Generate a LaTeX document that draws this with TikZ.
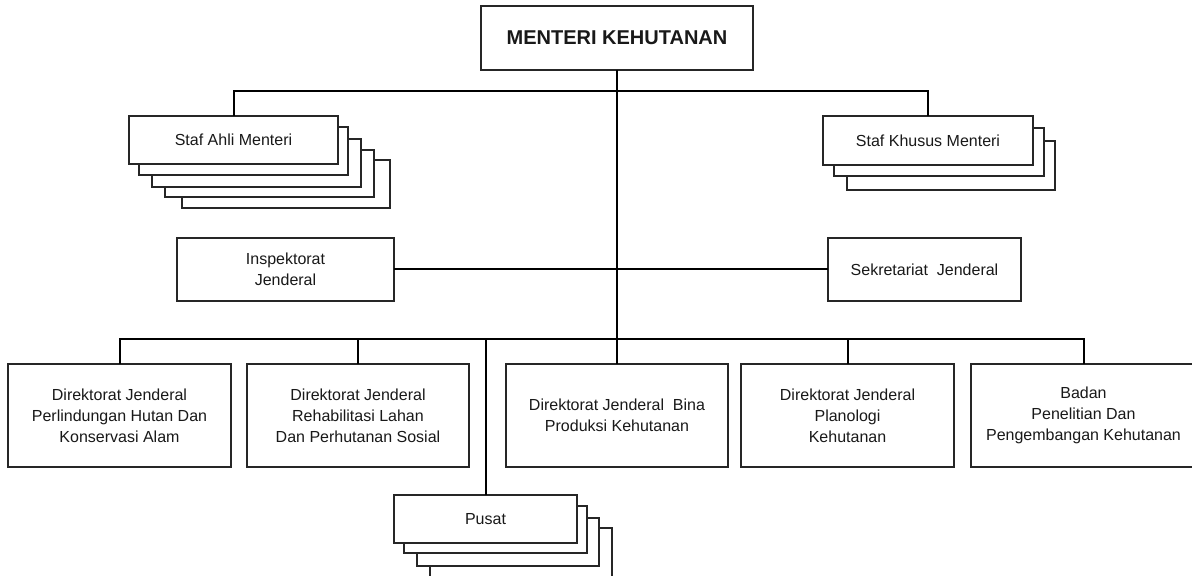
\documentclass[tikz,border=0pt]{standalone}
\usepackage{fontspec}
\setmainfont{Liberation Sans}
\begin{document}
\begin{tikzpicture}[x=0.5pt,y=-0.5pt,
  box/.style={draw=black!85,line width=0.65pt,fill=white,inner sep=0pt,outer sep=0pt,
    align=center,font=\fontsize{8}{10.5}\selectfont,text=black!90},
  stackbox/.style={draw=black!85,line width=0.65pt,fill=white},
  conn/.style={draw=black,line width=1pt}]
\useasboundingbox (0,0) rectangle (1192,576);
\clip (0,0) rectangle (1192,576);
% top
\node[box,minimum width=136pt,minimum height=32pt,font=\fontsize{10}{12}\selectfont\bfseries] (men) at (617,38) {MENTERI KEHUTANAN};
% staf ahli stack
\draw[stackbox] (182,160) rectangle (390,208);
\draw[stackbox] (165,150) rectangle (374,197);
\draw[stackbox] (152,139) rectangle (361,187);
\draw[stackbox] (139,127) rectangle (348,175);
\node[box,minimum width=104.5pt,minimum height=24pt] (ahli) at (233.5,140) {Staf Ahli Menteri};
% staf khusus stack
\draw[stackbox] (847,141) rectangle (1055,190);
\draw[stackbox] (834,128) rectangle (1044,176);
\node[box,minimum width=105pt,minimum height=24.5pt] (khusus) at (928,140.5) {Staf Khusus Menteri};
% inspektorat / sekretariat
\node[box,minimum width=108.5pt,minimum height=31.5pt] (insp) at (285.5,269.5) {Inspektorat\\Jenderal};
\node[box,minimum width=96.5pt,minimum height=31.5pt] (sek) at (924.5,269.5) {Sekretariat\ \ Jenderal};
% bottom row
\node[box,minimum width=111.5pt,minimum height=51.5pt] (d1) at (119.5,415.5) {Direktorat Jenderal\\Perlindungan Hutan Dan\\Konservasi Alam};
\node[box,minimum width=111pt,minimum height=51.5pt] (d2) at (358,415.5) {Direktorat Jenderal\\Rehabilitasi Lahan\\Dan Perhutanan Sosial};
\node[box,minimum width=111pt,minimum height=51.5pt] (d3) at (617,415.5) {Direktorat Jenderal\ \ Bina\\Produksi Kehutanan};
\node[box,minimum width=106.5pt,minimum height=51.5pt] (d4) at (847.5,415.5) {Direktorat Jenderal\\Planologi\\Kehutanan};
\node[box,minimum width=112.5pt,minimum height=51.5pt] (d5) at (1083.5,415.5) {Badan\\Penelitian Dan\\Pengembangan Kehutanan};
% pusat stack
\draw[stackbox] (430,528) rectangle (612,590);
\draw[stackbox] (417,518) rectangle (599,566);
\draw[stackbox] (404,506) rectangle (587,553);
\node[box,minimum width=91.5pt,minimum height=24pt] (pusat) at (485.5,519) {Pusat};
% connectors
\coordinate (tbus) at (617,91);
\coordinate (cbot) at (617,339);
\draw[conn] (men.south) -- (cbot);
\draw[conn] (ahli.north) |- (tbus) -| (khusus.north);
\draw[conn] (insp.east) -- (sek.west);
\draw[conn] (d1.north) -- (d1.north |- cbot) -- (d5.north |- cbot) -- (d5.north);
\draw[conn] (d2.north) -- (d2.north |- cbot);
\draw[conn] (d3.north) -- (cbot);
\draw[conn] (d4.north) -- (d4.north |- cbot);
\draw[conn] (pusat.north) -- (pusat.north |- cbot);
\end{tikzpicture}
\end{document}
